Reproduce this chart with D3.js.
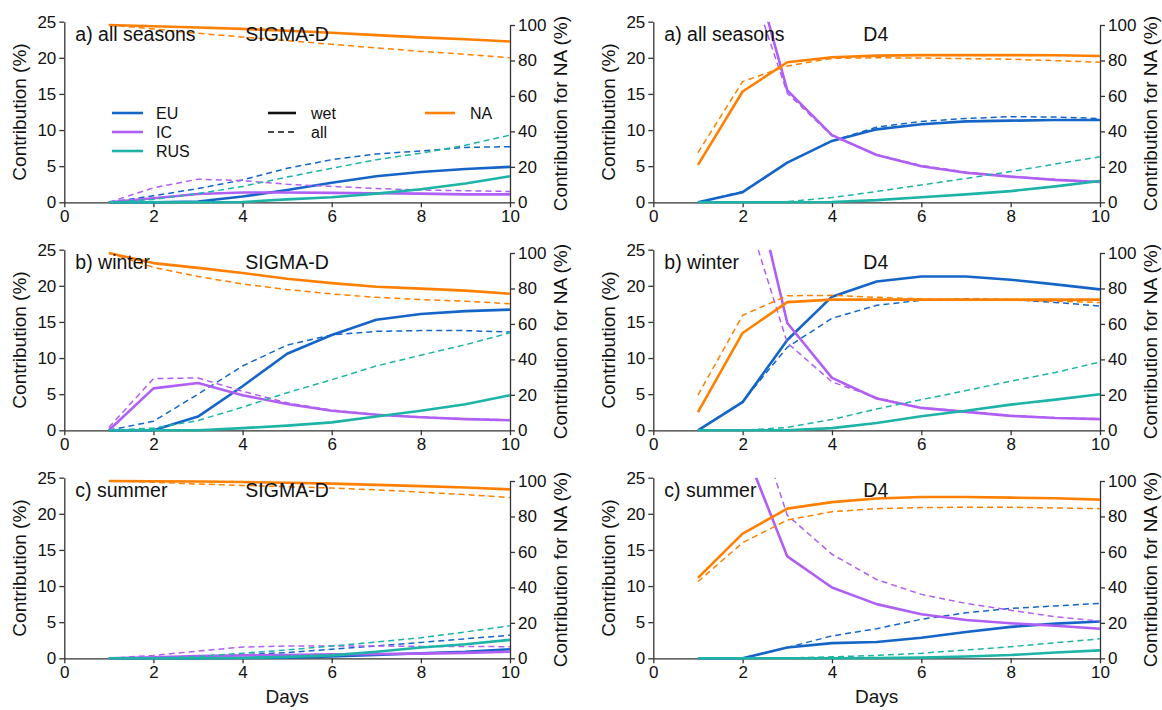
<!DOCTYPE html>
<html>
<head>
<meta charset="utf-8">
<script src="https://cdn.jsdelivr.net/npm/d3@7"></script>
<style>
  body { margin: 0; background: #fff; }
  svg { display: block; }
  text { font-family: "Liberation Sans", Arial, Helvetica, sans-serif; fill: #111; }
</style>
</head>
<body>
<svg id="chart" width="1162" height="710"></svg>
<script>
// ---- data: contributions (%) by forecast day ----
const days = [1, 2, 3, 4, 5, 6, 7, 8, 9, 10];
const leftTicks = [0, 5, 10, 15, 20, 25];
const rightTicks = [0, 20, 40, 60, 80, 100];
const xTicks = [0, 2, 4, 6, 8, 10];

// a) all seasons, SIGMA-D
const allSigEUwet  = [0, 0, 0.1, 0.8, 1.7, 2.7, 3.6, 4.2, 4.6, 4.9];
const allSigEUall  = [0, 0.9, 1.9, 3.1, 4.7, 5.9, 6.7, 7.1, 7.6, 7.7];
const allSigICwet  = [0, 0.55, 1.15, 1.35, 1.35, 1.3, 1.25, 1.2, 1.1, 1.1];
const allSigICall  = [0, 2.0, 3.2, 3.0, 2.5, 2.2, 1.9, 1.7, 1.6, 1.5];
const allSigRUSwet = [0, 0, 0, 0.05, 0.4, 0.7, 1.2, 1.8, 2.6, 3.6];
const allSigRUSall = [0, 0.4, 1.2, 2.2, 3.5, 4.7, 5.9, 6.8, 7.9, 9.3];
const allSigNAwet  = [100, 99.3, 98.6, 97.8, 96.8, 95.6, 94.3, 93.0, 92.0, 90.7];
const allSigNAall  = [100, 97.8, 95.3, 93.2, 91.2, 89.1, 87.1, 85.1, 83.5, 81.5];

// a) all seasons, D4
const allD4EUwet  = [0, 1.4, 5.5, 8.5, 10.1, 10.8, 11.2, 11.3, 11.4, 11.4];
const allD4EUall  = [0, 1.5, 5.5, 8.5, 10.4, 11.2, 11.6, 11.85, 11.8, 11.6];
const allD4ICwet  = [70, 37.9, 15.5, 9.3, 6.55, 5.0, 4.1, 3.55, 3.1, 2.8];
const allD4ICall  = [65, 33.5, 15.1, 9.2, 6.6, 5.1, 4.2, 3.6, 3.15, 2.85];
const allD4RUSwet = [0, 0, 0, 0.05, 0.3, 0.7, 1.1, 1.55, 2.2, 2.95];
const allD4RUSall = [0, 0, 0.1, 0.65, 1.5, 2.4, 3.3, 4.25, 5.3, 6.3];
const allD4NAwet  = [21.1, 62.5, 79.0, 81.8, 82.7, 83.0, 83.0, 83.0, 82.9, 82.5];
const allD4NAall  = [28.0, 68.1, 76.9, 81.2, 81.5, 81.4, 81.0, 80.7, 79.9, 79.0];

// b) winter, SIGMA-D
const winSigEUwet  = [0, 0, 1.9, 6.1, 10.6, 13.2, 15.3, 16.1, 16.5, 16.7];
const winSigEUall  = [0, 1.25, 5.0, 8.9, 11.8, 13.2, 13.7, 13.8, 13.8, 13.6];
const winSigICwet  = [0, 5.8, 6.55, 4.85, 3.65, 2.7, 2.15, 1.8, 1.55, 1.4];
const winSigICall  = [0.4, 7.15, 7.25, 5.4, 3.8, 2.8, 2.2, 1.85, 1.6, 1.45];
const winSigRUSwet = [0, 0, 0, 0.3, 0.65, 1.1, 1.9, 2.7, 3.6, 4.85];
const winSigRUSall = [0, 0.3, 1.35, 3.2, 5.2, 7.0, 8.9, 10.4, 11.85, 13.5];
const winSigNAwet  = [100, 94.3, 91.6, 88.7, 85.5, 83.0, 81.0, 79.9, 78.8, 77.0];
const winSigNAall  = [100, 91.9, 86.8, 82.5, 79.4, 76.9, 75.0, 73.7, 72.8, 71.4];

// b) winter, D4
const winD4EUwet  = [0, 3.9, 12.5, 18.5, 20.6, 21.3, 21.3, 20.85, 20.2, 19.5];
const winD4EUall  = [0, 4.0, 11.5, 15.5, 17.3, 18.0, 18.2, 18.1, 17.7, 17.2];
const winD4ICwet  = [75, 41, 14.85, 7.25, 4.4, 3.1, 2.55, 2.0, 1.7, 1.55];
const winD4ICall  = [60, 31.9, 12.1, 6.7, 4.5, 3.15, 2.6, 2.05, 1.75, 1.6];
const winD4RUSwet = [0, 0, 0, 0.3, 1.0, 1.95, 2.7, 3.55, 4.25, 5.0];
const winD4RUSall = [0, 0, 0.4, 1.5, 2.95, 4.25, 5.5, 6.8, 8.0, 9.45];
const winD4NAwet  = [10.3, 54.9, 72.3, 73.7, 73.7, 73.7, 73.7, 73.7, 73.7, 73.7];
const winD4NAall  = [19.8, 64.9, 75.9, 76.1, 75.0, 74.1, 73.7, 73.4, 72.8, 72.1];

// c) summer, SIGMA-D
const sumSigEUwet  = [0, 0, 0, 0.05, 0.1, 0.25, 0.45, 0.7, 0.9, 1.25];
const sumSigEUall  = [0, 0.05, 0.2, 0.5, 0.8, 1.25, 1.7, 2.2, 2.7, 3.2];
const sumSigICwet  = [0, 0.15, 0.3, 0.4, 0.45, 0.55, 0.6, 0.65, 0.75, 0.9];
const sumSigICall  = [0, 0.4, 1.0, 1.55, 1.7, 1.7, 1.7, 1.65, 1.65, 1.6];
const sumSigRUSwet = [0, 0, 0, 0.05, 0.2, 0.4, 0.9, 1.5, 1.95, 2.55];
const sumSigRUSall = [0, 0.05, 0.25, 0.7, 1.15, 1.7, 2.25, 2.85, 3.65, 4.5];
const sumSigNAwet  = [100, 99.9, 99.7, 99.4, 99.0, 98.5, 97.8, 97.1, 96.3, 95.3];
const sumSigNAall  = [100, 99.3, 98.3, 97.5, 96.8, 96.0, 95.0, 93.7, 92.3, 90.7];

// c) summer, D4
const sumD4EUwet  = [0, 0, 1.5, 2.1, 2.25, 2.85, 3.65, 4.35, 4.8, 5.1];
const sumD4EUall  = [0, 0, 1.5, 3.1, 4.1, 5.4, 6.3, 6.9, 7.25, 7.6];
const sumD4ICwet  = [60, 29.7, 14.1, 9.8, 7.5, 6.1, 5.3, 4.85, 4.5, 4.1];
const sumD4ICall  = [70, 38.6, 19.8, 14.4, 10.9, 8.85, 7.6, 6.65, 5.75, 5.15];
const sumD4RUSwet = [0, 0, 0, 0, 0.05, 0.1, 0.25, 0.45, 0.8, 1.1];
const sumD4RUSall = [0, 0, 0.05, 0.2, 0.4, 0.7, 1.15, 1.6, 2.15, 2.7];
const sumD4NAwet  = [45.4, 70.3, 84.4, 88.1, 90.1, 91.0, 91.0, 90.6, 90.3, 89.5];
const sumD4NAall  = [43.2, 65.2, 78.0, 82.7, 84.4, 85.0, 85.2, 85.2, 84.8, 84.4];

const regions = ["EU", "IC", "RUS"];
const colors = { EU: "#1565c8", IC: "#b05ff5", RUS: "#1db3a6", NA: "#ff8000" };

const panels = [
  { row: 0, col: 0, label: "a) all seasons", model: "SIGMA-D",
    EU: [allSigEUwet, allSigEUall], IC: [allSigICwet, allSigICall], RUS: [allSigRUSwet, allSigRUSall], NA: [allSigNAwet, allSigNAall] },
  { row: 0, col: 1, label: "a) all seasons", model: "D4",
    EU: [allD4EUwet, allD4EUall], IC: [allD4ICwet, allD4ICall], RUS: [allD4RUSwet, allD4RUSall], NA: [allD4NAwet, allD4NAall] },
  { row: 1, col: 0, label: "b) winter", model: "SIGMA-D",
    EU: [winSigEUwet, winSigEUall], IC: [winSigICwet, winSigICall], RUS: [winSigRUSwet, winSigRUSall], NA: [winSigNAwet, winSigNAall] },
  { row: 1, col: 1, label: "b) winter", model: "D4",
    EU: [winD4EUwet, winD4EUall], IC: [winD4ICwet, winD4ICall], RUS: [winD4RUSwet, winD4RUSall], NA: [winD4NAwet, winD4NAall] },
  { row: 2, col: 0, label: "c) summer", model: "SIGMA-D",
    EU: [sumSigEUwet, sumSigEUall], IC: [sumSigICwet, sumSigICall], RUS: [sumSigRUSwet, sumSigRUSall], NA: [sumSigNAwet, sumSigNAall] },
  { row: 2, col: 1, label: "c) summer", model: "D4",
    EU: [sumD4EUwet, sumD4EUall], IC: [sumD4ICwet, sumD4ICall], RUS: [sumD4RUSwet, sumD4RUSall], NA: [sumD4NAwet, sumD4NAall] }
];

// ---- layout ----
const colX = [{ x0: 64.3, x1: 510 }, { x0: 653.3, x1: 1100 }];
const rowBottom = [202.3, 430.3, 658.3];
const leftH = 180.6, rightH = 177.3;

const svg = d3.select("#chart");
const defs = svg.append("defs");
const axisColor = "#333";

function styleAxis(g) {
  g.selectAll("path.domain").attr("stroke", axisColor).attr("stroke-width", 1.3);
  g.selectAll(".tick line").attr("stroke", axisColor).attr("stroke-width", 1.3);
  g.selectAll(".tick text").attr("font-size", 17).attr("fill", "#111")
    .style("font-family", '"Liberation Sans", Arial, sans-serif');
}

panels.forEach((p, i) => {
  const c = colX[p.col];
  const bottom = rowBottom[p.row];
  const x = d3.scaleLinear().domain([0, 10]).range([c.x0, c.x1]);
  const yL = d3.scaleLinear().domain([0, 25]).range([bottom, bottom - leftH]);
  const yR = d3.scaleLinear().domain([0, 100]).range([bottom, bottom - rightH]);
  const top = bottom - leftH;

  const g = svg.append("g");

  // clip region for the plotting area
  const clipId = "clip" + i;
  defs.append("clipPath").attr("id", clipId)
    .append("rect").attr("x", c.x0).attr("y", top).attr("width", c.x1 - c.x0).attr("height", leftH + 3);

  // axes
  g.append("g").attr("transform", `translate(0,${bottom})`)
    .call(d3.axisBottom(x).tickValues(xTicks).tickSize(5).tickSizeOuter(0).tickPadding(3))
    .call(styleAxis);
  g.append("g").attr("transform", `translate(${c.x0},0)`)
    .call(d3.axisLeft(yL).tickValues(leftTicks).tickSize(5).tickSizeOuter(0).tickPadding(3))
    .call(styleAxis);
  g.append("g").attr("transform", `translate(${c.x1},0)`)
    .call(d3.axisRight(yR).tickValues(rightTicks).tickSize(5).tickSizeOuter(0).tickPadding(3))
    .call(styleAxis);

  // axis titles
  const midL = bottom - leftH / 2;
  g.append("text")
    .attr("transform", `translate(${c.x0 - 38},${midL}) rotate(-90)`)
    .attr("text-anchor", "middle").attr("font-size", 19)
    .text("Contribution (%)");
  g.append("text")
    .attr("transform", `translate(${c.x1 + 57},${bottom - rightH / 2}) rotate(-90)`)
    .attr("text-anchor", "middle").attr("font-size", 19)
    .text("Contribution for NA (%)");

  // series
  const plot = g.append("g").attr("clip-path", `url(#${clipId})`);
  const lineL = d3.line().x((d, k) => x(days[k])).y(d => yL(d));
  const lineR = d3.line().x((d, k) => x(days[k])).y(d => yR(d));

  const drawPair = (vals, color, gen) => {
    plot.append("path").datum(vals[1])
      .attr("d", gen).attr("fill", "none").attr("stroke", color)
      .attr("stroke-width", 1.5).attr("stroke-dasharray", "6,4");
    plot.append("path").datum(vals[0])
      .attr("d", gen).attr("fill", "none").attr("stroke", color)
      .attr("stroke-width", 2.6).attr("stroke-linejoin", "round");
  };
  regions.forEach(r => drawPair(p[r], colors[r], lineL));
  drawPair(p.NA, colors.NA, lineR);

  // panel captions
  g.append("text").attr("x", c.x0 + 11).attr("y", top + 19)
    .attr("font-size", 19.5).text(p.label);
  const modelX = p.col === 0 ? c.x0 + 181 : c.x0 + 210;
  g.append("text").attr("x", modelX).attr("y", top + 19)
    .attr("font-size", 19.5).text(p.model);

  // x-axis title on the bottom row
  if (p.row === 2) {
    g.append("text").attr("x", (c.x0 + c.x1) / 2).attr("y", bottom + 45)
      .attr("text-anchor", "middle").attr("font-size", 19).text("Days");
  }
});

// ---- legend (first panel) ----
const leg = svg.append("g");
const legRegions = [
  { name: "EU", color: colors.EU, y: 113 },
  { name: "IC", color: colors.IC, y: 132 },
  { name: "RUS", color: colors.RUS, y: 151 }
];
legRegions.forEach(d => {
  leg.append("line").attr("x1", 112).attr("x2", 143).attr("y1", d.y).attr("y2", d.y)
    .attr("stroke", d.color).attr("stroke-width", 2.6);
  leg.append("text").attr("x", 156).attr("y", d.y + 6).attr("font-size", 16).text(d.name);
});
const legTypes = [
  { name: "wet", dash: null, w: 2.6, y: 113 },
  { name: "all", dash: "6,4", w: 1.5, y: 132 }
];
legTypes.forEach(d => {
  leg.append("line").attr("x1", 268).attr("x2", 296).attr("y1", d.y).attr("y2", d.y)
    .attr("stroke", "#111").attr("stroke-width", d.w).attr("stroke-dasharray", d.dash);
  leg.append("text").attr("x", 311).attr("y", d.y + 6).attr("font-size", 16).text(d.name);
});
leg.append("line").attr("x1", 425).attr("x2", 455).attr("y1", 113).attr("y2", 113)
  .attr("stroke", colors.NA).attr("stroke-width", 2.6);
leg.append("text").attr("x", 470).attr("y", 119).attr("font-size", 16).text("NA");
</script>
</body>
</html>
